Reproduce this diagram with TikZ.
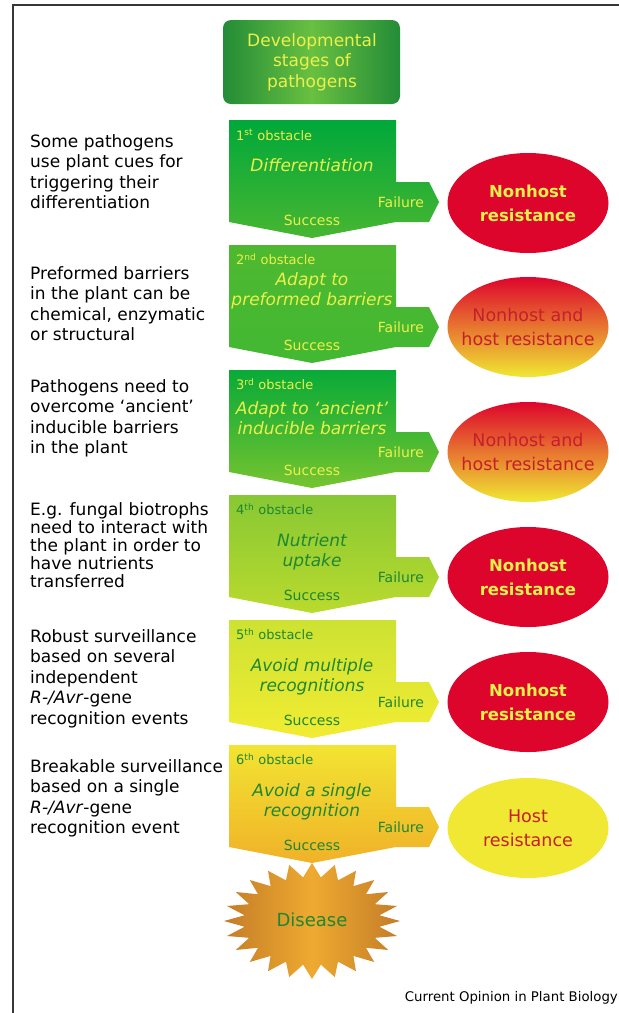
\documentclass[tikz,border=0pt]{standalone}
\usepackage{fontspec}
\setmainfont{DejaVu Sans}
\usetikzlibrary{shapes.geometric,positioning}

\definecolor{frameline}{RGB}{55,55,55}
\definecolor{boxdark}{RGB}{35,140,55}
\definecolor{boxlight}{RGB}{105,192,65}
\definecolor{textyellow}{RGB}{236,240,75}
\definecolor{textgreen}{RGB}{30,135,50}
\definecolor{resred}{RGB}{222,5,45}
\definecolor{resorange}{RGB}{236,122,45}
\definecolor{resyellow}{RGB}{240,232,50}
\definecolor{textred}{RGB}{198,30,45}
\definecolor{stardark}{RGB}{196,124,40}
\definecolor{starlight}{RGB}{238,170,48}
% obstacle blocks, top and bottom colour
\definecolor{oneT}{RGB}{0,168,58}    \definecolor{oneB}{RGB}{72,182,50}
\definecolor{twoT}{RGB}{78,185,48}   \definecolor{twoB}{RGB}{66,184,50}
\definecolor{threeT}{RGB}{8,170,56}  \definecolor{threeB}{RGB}{118,196,48}
\definecolor{fourT}{RGB}{135,200,52} \definecolor{fourB}{RGB}{186,218,46}
\definecolor{fiveT}{RGB}{205,226,50} \definecolor{fiveB}{RGB}{242,236,50}
\definecolor{sixT}{RGB}{242,228,50}  \definecolor{sixB}{RGB}{240,178,40}

\tikzset{
  lefttext/.style={anchor=north west, align=left, inner sep=0pt, font=\fontsize{17}{20.5}\selectfont},
  obslabel/.style={anchor=west, inner sep=0pt, font=\fontsize{13}{15}\selectfont},
  maintext/.style={align=center, inner sep=0pt, font=\itshape\fontsize{17}{20}\selectfont},
  smalllabel/.style={inner sep=0pt, font=\fontsize{14}{16}\selectfont},
  resist/.style={ellipse, minimum width=161pt, minimum height=100pt, inner sep=0pt},
  nonhost/.style={resist, fill=resred},
  mixed/.style={resist, top color=resred, middle color=resorange, bottom color=resyellow},
  host/.style={resist, fill=resyellow},
  restext/.style={align=center, inner sep=0pt, text=textred, font=\fontsize{17.5}{24}\selectfont},
  nonhosttext/.style={restext, text=textyellow, font=\bfseries\fontsize{16.5}{24}\selectfont}
}

\begin{document}
\begin{tikzpicture}[x=1pt,y=-1pt]
\useasboundingbox (0,0) rectangle (619,1013);

% frame
\draw [frameline, line width=2pt] (13,1013) -- (13,5) -- (619,5);

% title box
\shade [left color=boxdark, right color=boxdark, middle color=boxlight, rounded corners=8pt] (223,20) rectangle (400,104);
\node (title) [align=center, text=textyellow, font=\fontsize{17}{20.5}\selectfont] at (312,62) {Developmental\\stages of\\pathogens};

% obstacle blocks with failure tab and success chevron
\foreach \t/\ct/\cb/\tc [count=\i] in {120/oneT/oneB/textyellow, 245/twoT/twoB/textyellow,
  370/threeT/threeB/textyellow, 495/fourT/fourB/textgreen, 620/fiveT/fiveB/textgreen, 745/sixT/sixB/textgreen} {
  \shade [top color=\ct, bottom color=\cb] (229,\t) -- (396,\t) -- (396,\t+62) -- (429,\t+62) -- (439,\t+82)
    -- (429,\t+102) -- (396,\t+102) -- (312,\t+118) -- (229,\t+102) -- cycle;
  \node (fail\i) [smalllabel, text=\tc] at (401,\t+82) {Failure};
  \node (succ\i) [smalllabel, text=\tc] at (312,\t+100) {Success};
}

\node (obs1) [obslabel, text=textyellow] at (236,135) {1\textsuperscript{st} obstacle};
\node (obs2) [obslabel, text=textyellow] at (236,259) {2\textsuperscript{nd} obstacle};
\node (obs3) [obslabel, text=textyellow] at (236,384) {3\textsuperscript{rd} obstacle};
\node (obs4) [obslabel, text=textgreen] at (236,509) {4\textsuperscript{th} obstacle};
\node (obs5) [obslabel, text=textgreen] at (236,634) {5\textsuperscript{th} obstacle};
\node (obs6) [obslabel, text=textgreen] at (236,759) {6\textsuperscript{th} obstacle};

\node (stage1) [maintext, text=textyellow] at (312,165) {Differentiation};
\node (stage2) [maintext, text=textyellow] at (312,291) {Adapt to\\preformed barriers};
\node (stage3) [maintext, text=textyellow] at (312,418) {Adapt to `ancient'\\inducible barriers};
\node (stage4) [maintext, text=textgreen] at (312,552) {Nutrient\\uptake};
\node (stage5) [maintext, text=textgreen] at (312,677) {Avoid multiple\\recognitions};
\node (stage6) [maintext, text=textgreen] at (312,802) {Avoid a single\\recognition};

% outcomes
\node (res1) [nonhost] at (528,203) {};
\node (res2) [mixed] at (528,327) {};
\node (res3) [mixed] at (528,452) {};
\node (res4) [nonhost] at (528,577) {};
\node (res5) [nonhost] at (528,702) {};
\node (res6) [host] at (528,828) {};
\node (res1t) [nonhosttext] at (res1) {Nonhost\\resistance};
\node (res2t) [restext] at (res2) {Nonhost and\\host resistance};
\node (res3t) [restext] at (res3) {Nonhost and\\host resistance};
\node (res4t) [nonhosttext] at (res4) {Nonhost\\resistance};
\node (res5t) [nonhosttext] at (res5) {Nonhost\\resistance};
\node (res6t) [restext] at (res6) {Host\\resistance};

% left explanations
\node (note1) [lefttext] at (30,134) {Some pathogens\\use plant cues for\\triggering their\\differentiation};
\node (note2) [lefttext] at (30,266) {Preformed barriers\\in the plant can be\\chemical, enzymatic\\or structural};
\node (note3) [lefttext] at (30,379) {Pathogens need to\\overcome `ancient'\\inducible barriers\\in the plant};
\node (note4) [lefttext, font=\fontsize{17}{18}\selectfont] at (30,502) {E.g. fungal biotrophs\\need to interact with\\the plant in order to\\have nutrients\\transferred};
\node (note5) [lefttext] at (30,629) {Robust surveillance\\based on several\\independent\\\textit{R-/Avr}-gene\\recognition events};
\node (note6) [lefttext] at (30,759) {Breakable surveillance\\based on a single\\\textit{R-/Avr}-gene\\recognition event};

% disease burst
\shade [left color=stardark, right color=stardark, middle color=starlight]
  plot [samples at={0,...,47}, variable=\k] ({312+ifthenelse(mod(\k,2)==0,88,68)*cos(\k*7.5)}, {921+ifthenelse(mod(\k,2)==0,58,44)*sin(\k*7.5)}) -- cycle;
\node (disease) [text=textgreen, font=\fontsize{18}{20}\selectfont] at (312,920) {Disease};

\node (credit) [anchor=east, inner sep=0pt, font=\fontsize{13.3}{15}\selectfont] at (618,998) {Current Opinion in Plant Biology};
\end{tikzpicture}
\end{document}
